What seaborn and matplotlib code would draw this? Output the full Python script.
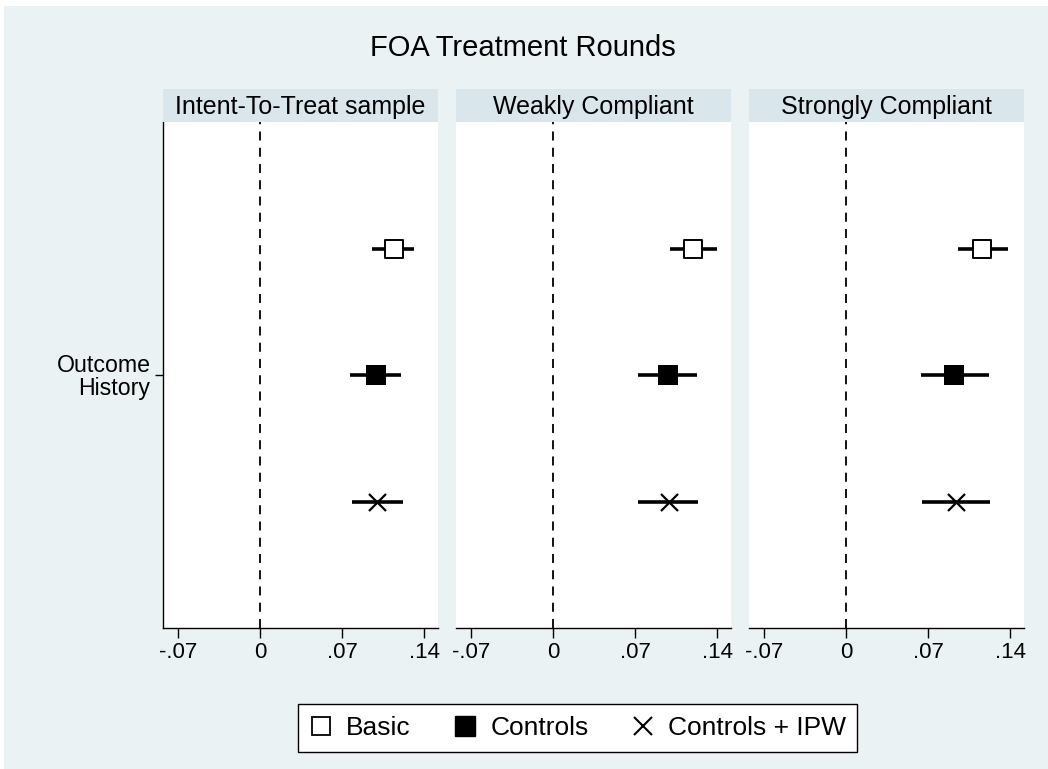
import matplotlib
matplotlib.use("Agg")
import matplotlib.pyplot as plt
from matplotlib.patches import Rectangle
from matplotlib.lines import Line2D
import numpy as np
import pandas as pd
import seaborn as sns

# Data
panels = ['Intent-To-Treat sample', 'Weakly Compliant', 'Strongly Compliant']
models = ['Basic', 'Controls', 'Controls + IPW']
coef = [[0.1138, 0.0988, 0.0996],
        [0.1196, 0.0977, 0.0989],
        [0.1157, 0.0918, 0.0935]]
ci_low = [[0.0954, 0.0768, 0.0783],
          [0.0997, 0.0724, 0.0726],
          [0.0952, 0.0636, 0.0645]]
ci_high = [[0.1315, 0.1201, 0.1216],
           [0.1400, 0.1230, 0.1238],
           [0.1379, 0.1217, 0.1225]]
row_label = 'Outcome\nHistory'
xticks = [-0.07, 0, 0.07, 0.14]
xticklabels = ['-.07', '0', '.07', '.14']

rows = []
for i, p in enumerate(panels):
    for j, m in enumerate(models):
        rows.append({'panel': p, 'model': m, 'b': coef[i][j],
                     'lo': ci_low[i][j], 'hi': ci_high[i][j], 'pos': 1 - j})
df = pd.DataFrame(rows)

sns.set_theme(style='white')
plt.rcParams['font.family'] = ['Liberation Sans', 'DejaVu Sans']
plt.rcParams['text.color'] = 'black'
plt.rcParams['xtick.color'] = 'black'
plt.rcParams['ytick.color'] = 'black'

bg = '#EAF2F3'
strip_col = '#D9E6EC'

fig = plt.figure(figsize=(10.48, 7.69), dpi=100)
fig.patch.set_facecolor('white')
fig.patches.append(Rectangle((4 / 1048, 0), 1 - 4 / 1048, 1 - 6 / 769,
                             transform=fig.transFigure, facecolor=bg,
                             edgecolor='none', zorder=-10))

marker_style = {
    'Basic': dict(marker='s', s=165, facecolor='white', edgecolor='black', linewidth=1.4),
    'Controls': dict(marker='s', s=190, color='black', edgecolor='black', linewidth=0),
    'Controls + IPW': dict(marker='x', s=150, color='black', linewidth=1.6),
}

lefts = [163, 456, 749]
for i, p in enumerate(panels):
    ax = fig.add_axes([lefts[i] / 1048, 1 - 628 / 769, 275 / 1048, 506 / 769])
    ax.set_facecolor('white')
    sub = df[df['panel'] == p]
    ax.axvline(0, color='black', lw=1.3, ls=(0, (5, 4)), zorder=1)
    ax.hlines(sub['pos'], sub['lo'], sub['hi'], color='black', lw=2.6, zorder=2)
    for m in models:
        d = sub[sub['model'] == m]
        sns.scatterplot(data=d, x='b', y='pos', ax=ax, legend=False, zorder=3,
                        **marker_style[m])
    ax.set_xlim(-0.0826, 0.1517)
    ax.set_ylim(-2, 2)
    ax.set_xticks(xticks)
    ax.set_xticklabels(xticklabels, fontsize=16)
    ax.tick_params(axis='x', direction='out', length=7, width=1, color='black',
                   pad=3, bottom=True)
    ax.set_xlabel('')
    ax.set_ylabel('')
    for s in ['top', 'right']:
        ax.spines[s].set_visible(False)
    ax.spines['bottom'].set_color('black')
    ax.spines['bottom'].set_linewidth(1)
    if i == 0:
        ax.set_yticks([0])
        ax.set_yticklabels([row_label], fontsize=16.7, ha='right',
                           multialignment='right', linespacing=1.0)
        ax.tick_params(axis='y', direction='out', length=6, width=1,
                       color='black', left=True, pad=3)
        ax.spines['left'].set_color('black')
        ax.spines['left'].set_linewidth(1)
    else:
        ax.set_yticks([])
        ax.spines['left'].set_visible(False)
    # strip header
    sx = fig.add_axes([lefts[i] / 1048, 1 - 122 / 769, 275 / 1048, 33 / 769])
    sx.set_facecolor(strip_col)
    sx.set_xticks([])
    sx.set_yticks([])
    for s in sx.spines.values():
        s.set_visible(False)
    sx.text(0.5, 0.45, p, ha='center', va='center', fontsize=18,
            transform=sx.transAxes)

fig.text(0.499, 1 - 48 / 769, 'FOA Treatment Rounds', ha='center', va='center',
         fontsize=21)

handles = [
    Line2D([], [], ls='none', marker='s', markersize=13, markerfacecolor='white',
           markeredgecolor='black', markeredgewidth=1.3),
    Line2D([], [], ls='none', marker='s', markersize=14, markerfacecolor='black',
           markeredgecolor='black'),
    Line2D([], [], ls='none', marker='x', markersize=13, color='black',
           markeredgewidth=1.5),
]
leg = fig.legend(handles, models, loc='center', ncol=3,
                 bbox_to_anchor=(577.5 / 1048, 1 - 728 / 769), frameon=True,
                 fontsize=19, handlelength=0.9, handletextpad=0.5,
                 columnspacing=1.6, borderpad=0.45, borderaxespad=0,
                 fancybox=False)
leg.get_frame().set_edgecolor('black')
leg.get_frame().set_linewidth(1)
leg.get_frame().set_facecolor('white')
leg.get_frame().set_alpha(1)

fig.savefig('out.png', dpi=100, facecolor=fig.get_facecolor())
